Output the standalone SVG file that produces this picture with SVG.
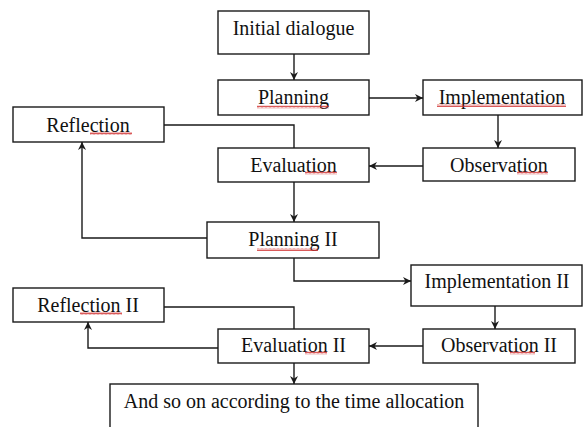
<svg xmlns="http://www.w3.org/2000/svg" width="583" height="427" viewBox="0 0 583 427">
<style>
.box{fill:#fff;stroke:#1a1a1a;stroke-width:1.4}
.t{font-family:"Liberation Serif","Times New Roman",serif;font-size:20px;fill:#111;text-anchor:middle}
.c{fill:none;stroke:#1a1a1a;stroke-width:1.4}
</style>
<defs>
<marker id="ah" viewBox="0 0 10 10" refX="10" refY="5" markerWidth="8" markerHeight="8" markerUnits="userSpaceOnUse" orient="auto">
<path d="M0,0 L10,5 L0,10 L3,5 Z" fill="#1a1a1a"/>
</marker>
<pattern id="wv" width="4" height="3" patternUnits="userSpaceOnUse"><path d="M0,2.5 L1,0.5 L2,2.5 L3,0.5 L4,2.5" fill="none" stroke="#d03030" stroke-width="0.8"/></pattern>
</defs>
<rect width="583" height="427" fill="#fff"/>
<g id="connectors">
<path class="c" d="M294,54 V80" marker-end="url(#ah)"/>
<path class="c" d="M369,98 H423" marker-end="url(#ah)"/>
<path class="c" d="M498,115 V148" marker-end="url(#ah)"/>
<path class="c" d="M423,166 H369" marker-end="url(#ah)"/>
<path class="c" d="M164,125 H294 V148"/>
<path class="c" d="M294,182 V222" marker-end="url(#ah)"/>
<path class="c" d="M207,238 H82 V142" marker-end="url(#ah)"/>
<path class="c" d="M294,258 V281 H411" marker-end="url(#ah)"/>
<path class="c" d="M495,306 V329" marker-end="url(#ah)"/>
<path class="c" d="M423,346 H369" marker-end="url(#ah)"/>
<path class="c" d="M164,307 H294 V329"/>
<path class="c" d="M218,348 H88 V322" marker-end="url(#ah)"/>
<path class="c" d="M294,363 V384" marker-end="url(#ah)"/>
</g>
<g id="initial"><rect class="box" x="218" y="11" width="151" height="43"/><text class="t" x="293.5" y="35">Initial dialogue</text></g>
<g id="planning"><rect class="box" x="218" y="80" width="151" height="35"/><text class="t" x="293.5" y="104">Planning</text><rect x="257" y="105.5" width="72" height="3" fill="url(#wv)"/></g>
<g id="implementation"><rect class="box" x="423" y="80" width="159" height="35"/><text class="t" x="502" y="104">Implementation</text><rect x="437" y="104" width="129" height="3" fill="url(#wv)"/></g>
<g id="reflection"><rect class="box" x="13" y="107" width="151" height="35"/><text class="t" x="88" y="131.5">Reflection</text><rect x="90" y="132" width="42" height="3" fill="url(#wv)"/></g>
<g id="evaluation"><rect class="box" x="218" y="148" width="151" height="34"/><text class="t" x="293.5" y="172">Evaluation</text><rect x="305" y="171.5" width="32" height="3" fill="url(#wv)"/></g>
<g id="observation"><rect class="box" x="423" y="148" width="152" height="33"/><text class="t" x="499" y="172">Observation</text><rect x="517" y="171.5" width="31" height="3" fill="url(#wv)"/></g>
<g id="planning2"><rect class="box" x="207" y="222" width="172" height="36"/><text class="t" x="293" y="246">Planning II</text><rect x="257" y="248" width="61" height="3" fill="url(#wv)"/></g>
<g id="implementation2"><rect class="box" x="411" y="265" width="171" height="41"/><text class="t" x="497" y="288">Implementation II</text></g>
<g id="reflection2"><rect class="box" x="13" y="288" width="151" height="34"/><text class="t" x="88" y="312">Reflection II</text><rect x="80" y="312" width="42" height="3" fill="url(#wv)"/></g>
<g id="evaluation2"><rect class="box" x="218" y="329" width="151" height="34"/><text class="t" x="293.5" y="352">Evaluation II</text><rect x="305" y="351.5" width="22" height="3" fill="url(#wv)"/></g>
<g id="observation2"><rect class="box" x="423" y="329" width="152" height="34"/><text class="t" x="499" y="352">Observation II</text><rect x="510" y="351.5" width="25" height="3" fill="url(#wv)"/></g>
<g id="andsoon"><rect class="box" x="110" y="384" width="368" height="60"/><text class="t" x="294" y="408">And so on according to the time allocation</text></g>
</svg>
